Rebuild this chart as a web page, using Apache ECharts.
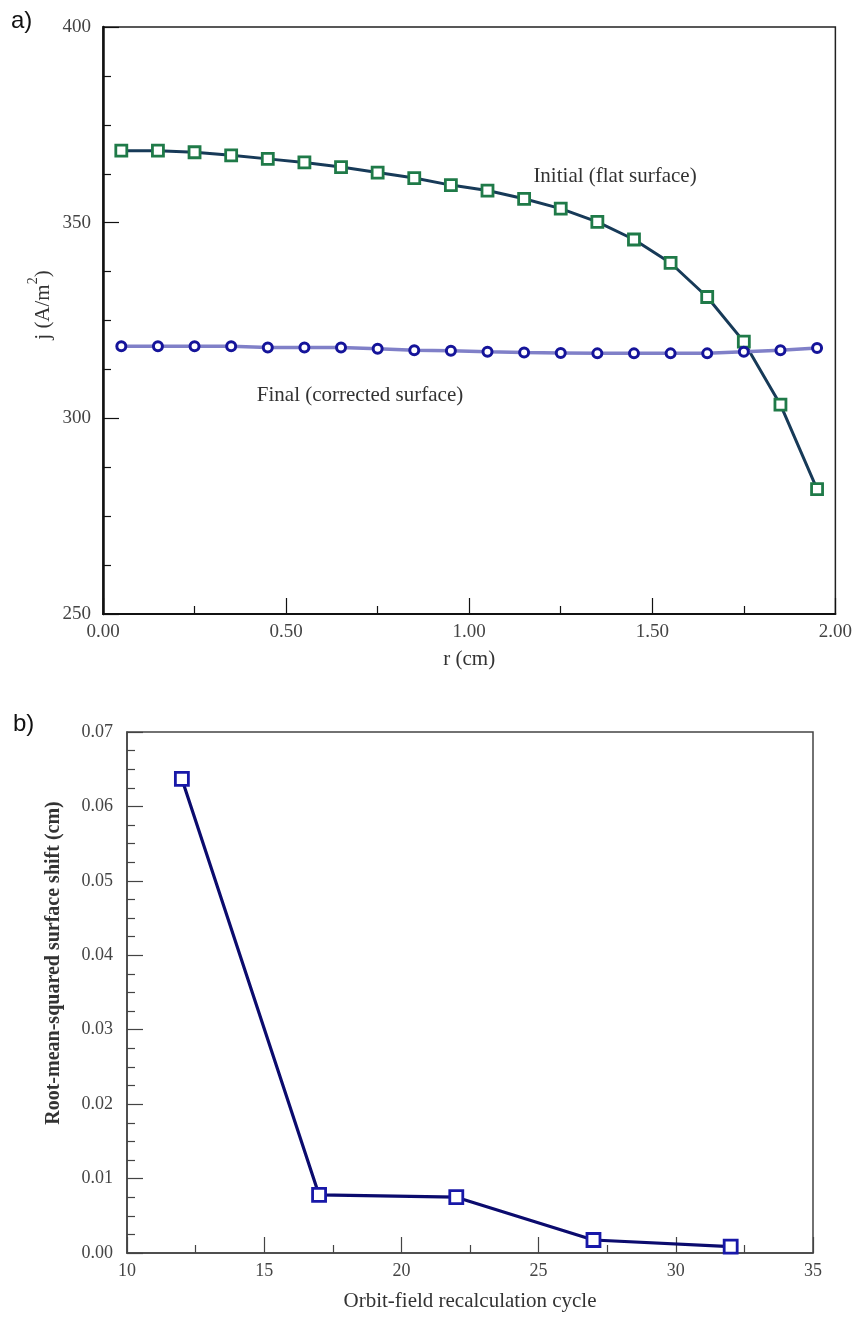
<!DOCTYPE html>
<html>
<head>
<meta charset="utf-8">
<script src="https://cdn.jsdelivr.net/npm/echarts@6/dist/echarts.min.js"></script>
<style>
html,body{margin:0;padding:0;background:#fff;}
#chart{width:855px;height:1317px;}
</style>
</head>
<body>
<div id="chart"></div>
<script>
// ---- Panel a) data ----
const rValues = [0.05,0.15,0.25,0.35,0.45,0.55,0.65,0.75,0.85,0.95,1.05,1.15,1.25,1.35,1.45,1.55,1.65,1.75,1.85,1.95];
const initialJ = [368.4,368.4,368.0,367.2,366.3,365.4,364.2,362.8,361.4,359.6,358.2,356.1,353.6,350.2,345.7,339.7,331.0,319.6,303.5,281.9];
const finalJ   = [318.4,318.4,318.4,318.4,318.1,318.1,318.1,317.8,317.4,317.3,317.0,316.8,316.7,316.6,316.6,316.6,316.6,317.0,317.4,318.0];
const initialLabel = 'Initial (flat surface)';
const finalLabel = 'Final (corrected surface)';

// ---- Panel b) data ----
const cycles = [12,17,22,27,32];
const rmsShift = [0.0637,0.0078,0.0075,0.00175,0.00085];

const serif = '"Liberation Serif","Times New Roman",serif';
const sans = '"Liberation Sans",Arial,sans-serif';
const pair = (xs, ys) => xs.map((x,i)=>[x, ys[i]]);

const chart = echarts.init(document.getElementById('chart'), null, {renderer:'canvas'});

const axisCommon = (lineW, lineColor) => ({
  axisLine:{show:true,onZero:false,lineStyle:{color:lineColor,width:lineW}},
  axisTick:{show:true,inside:true,length:16,lineStyle:{color:lineColor,width:1.2}},
  splitLine:{show:false}
});

const option = {
  animation:false,
  backgroundColor:'#fff',
  grid:[
    {left:103,right:18,top:27,bottom:703,show:true,borderColor:'#222',borderWidth:1.5,backgroundColor:'transparent'},
    {left:127,right:42,top:732,bottom:64,show:true,borderColor:'#444',borderWidth:1.5,backgroundColor:'transparent'}
  ],
  xAxis:[
    Object.assign(axisCommon(2,'#111'),{
      type:'value',gridIndex:0,min:0,max:2,interval:0.5,
      minorTick:{show:true,splitNumber:2,length:8,lineStyle:{color:'#111',width:1.2}},
      axisLabel:{color:'#444',fontFamily:serif,fontSize:19,margin:9,formatter:v=>v.toFixed(2)},
      name:'r (cm)',nameLocation:'middle',nameGap:35,
      nameTextStyle:{color:'#333',fontFamily:serif,fontSize:21}
    }),
    Object.assign(axisCommon(1.5,'#444'),{
      type:'value',gridIndex:1,min:10,max:35,interval:5,
      minorTick:{show:true,splitNumber:2,length:8,lineStyle:{color:'#444',width:1.2}},
      axisLabel:{color:'#444',fontFamily:serif,fontSize:18,margin:9},
      name:'Orbit-field recalculation cycle',nameLocation:'middle',nameGap:38,
      nameTextStyle:{color:'#333',fontFamily:serif,fontSize:21}
    })
  ],
  yAxis:[
    Object.assign(axisCommon(2.5,'#111'),{
      type:'value',gridIndex:0,min:250,max:400,interval:50,
      minorTick:{show:true,splitNumber:4,length:8,lineStyle:{color:'#111',width:1.2}},
      axisLabel:{color:'#444',fontFamily:serif,fontSize:19,margin:12}
    }),
    Object.assign(axisCommon(1.5,'#444'),{
      type:'value',gridIndex:1,min:0,max:0.07,interval:0.01,
      minorTick:{show:true,splitNumber:4,length:8,lineStyle:{color:'#444',width:1.2}},
      axisLabel:{color:'#444',fontFamily:serif,fontSize:18,margin:14,formatter:v=>v.toFixed(2)}
    })
  ],
  series:[
    {
      name:initialLabel,type:'line',xAxisIndex:0,yAxisIndex:0,
      data:pair(rValues,initialJ),
      lineStyle:{color:'#173a58',width:3},
      symbol:'rect',symbolSize:11,
      itemStyle:{color:'#fff',borderColor:'#1f7a48',borderWidth:2.8},
      z:2
    },
    {
      name:finalLabel,type:'line',xAxisIndex:0,yAxisIndex:0,
      data:pair(rValues,finalJ),
      lineStyle:{color:'#8080c8',width:3.5},
      symbol:'circle',symbolSize:9,
      itemStyle:{color:'#fff',borderColor:'#15149a',borderWidth:3},
      z:3
    },
    {
      name:'RMS shift',type:'line',xAxisIndex:1,yAxisIndex:1,
      data:pair(cycles,rmsShift),
      lineStyle:{color:'#0b0b6e',width:3.2},
      symbol:'rect',symbolSize:13,
      itemStyle:{color:'#fff',borderColor:'#1818a8',borderWidth:2.8},
      z:2
    }
  ],
  graphic:[
    {type:'text',left:11,top:9,style:{text:'a)',font:'24px '+sans,fill:'#111'}},
    {type:'text',left:13,top:712,style:{text:'b)',font:'24px '+sans,fill:'#111'}},
    {type:'text',x:615,y:176,style:{text:initialLabel,font:'21px '+serif,fill:'#333',align:'center',verticalAlign:'middle'}},
    {type:'text',x:360,y:395,style:{text:finalLabel,font:'21px '+serif,fill:'#333',align:'center',verticalAlign:'middle'}},
    {type:'text',x:40,y:305,rotation:Math.PI/2,
      style:{text:'{b|j (A/m}{s|2}{b|)}',align:'center',verticalAlign:'middle',fill:'#333',
        rich:{b:{font:'21px '+serif,fill:'#333',lineHeight:28,verticalAlign:'bottom'},
              s:{font:'14px '+serif,fill:'#333',lineHeight:28,verticalAlign:'top'}}}},
    {type:'text',x:54,y:963,rotation:Math.PI/2,
      style:{text:'Root-mean-squared surface shift (cm)',font:'bold 20px '+serif,fill:'#333',align:'center',verticalAlign:'middle'}}
  ]
};
chart.setOption(option);
</script>
</body>
</html>
